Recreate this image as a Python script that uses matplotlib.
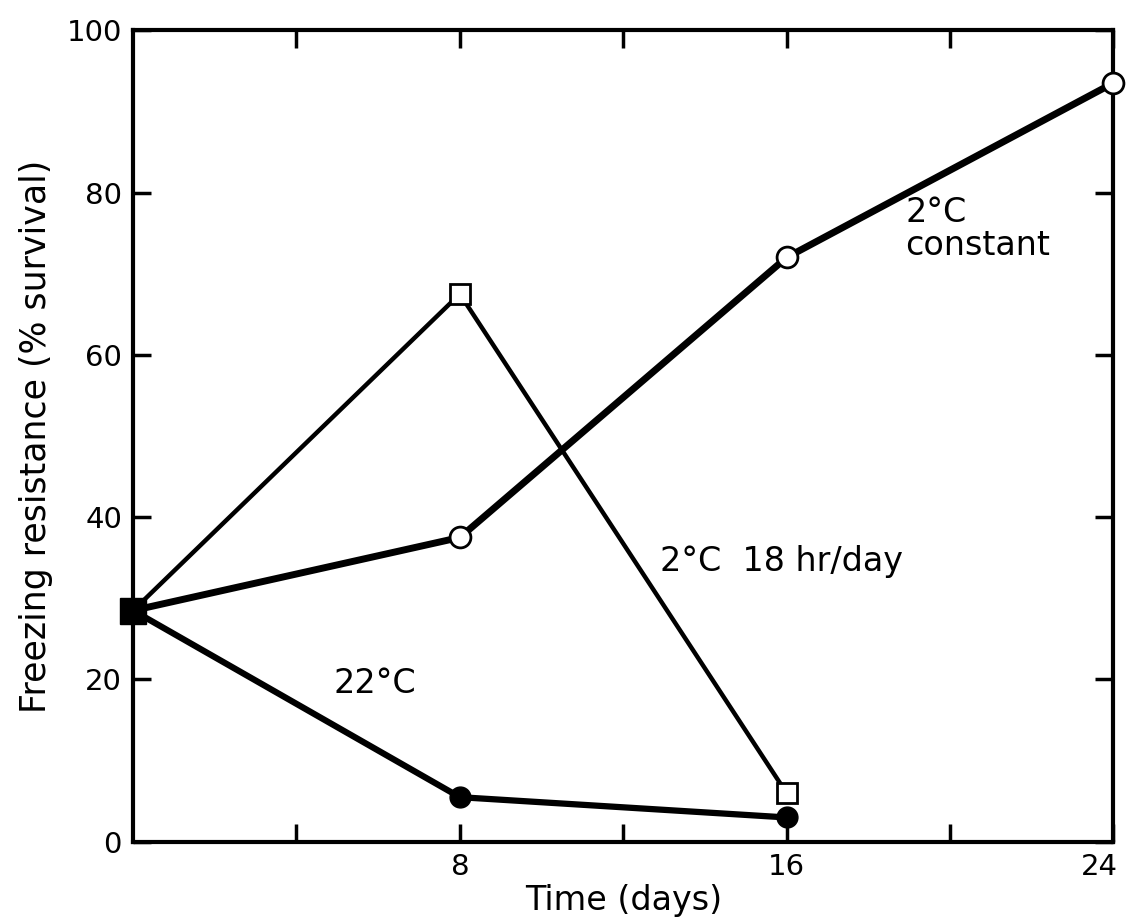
import matplotlib
matplotlib.use("Agg")
import matplotlib.pyplot as plt
import matplotlib.transforms as mtransforms

# freezing resistance (% survival) vs days of treatment
days = [0, 8, 16, 24]
start = 28.5
const_2c = [start, 37.5, 72, 93.5]
cycle_2c = [start, 67.5, 6]
warm_22c = [start, 5.5, 3]
xtick_pos = [4, 8, 12, 16, 20, 24]
xtick_txt = ['', '8', '', '16', '', '24']

plt.rcParams['font.family'] = ['DejaVu Sans']

fig = plt.figure(figsize=(11.28, 9.17), dpi=100)
ax = fig.add_axes([0.118, 0.082, 0.869, 0.885])

ax.plot(days, const_2c, color='k', lw=5, marker='o', ms=15,
        mfc='white', mec='k', mew=2, clip_on=False, zorder=3)
ax.plot(days[:3], cycle_2c, color='k', lw=3.2, marker='s', ms=15,
        mfc='white', mec='k', mew=2, clip_on=False, zorder=3)
ax.plot(days[:3], warm_22c, color='k', lw=4.5, marker='o', ms=15,
        mfc='k', mec='k', clip_on=False, zorder=3)
ax.plot([0], [start], marker='s', ms=19, color='k', clip_on=False, zorder=4)

ax.text(18.9, 71.5, "2°C\nconstant", fontsize=24, ha='left', va='bottom',
        linespacing=1.0)
ax.text(12.9, 34.5, "2°C  18 hr/day", fontsize=24, ha='left', va='center')
ax.text(4.9, 19.5, "22°C", fontsize=24, ha='left', va='center')

ax.set_xlim(0, 24)
ax.set_ylim(0, 100)
ax.set_xticks(xtick_pos)
ax.set_xticklabels(xtick_txt)
ax.set_yticks([0, 20, 40, 60, 80, 100])
ax.tick_params(direction='in', length=13, width=2.5, labelsize=21,
               top=True, right=True, pad=8)
for s in ax.spines.values():
    s.set_linewidth(3)

# nudge the last x label left so it stays inside the figure
last = ax.get_xticklabels()[-1]
last.set_transform(last.get_transform() +
                   mtransforms.ScaledTranslation(-0.14, 0, fig.dpi_scale_trans))

ax.set_xlabel("Time (days)", fontsize=24, labelpad=2)
ax.set_ylabel("Freezing resistance (% survival)", fontsize=25, labelpad=10)

fig.savefig("out.png", dpi=100)
